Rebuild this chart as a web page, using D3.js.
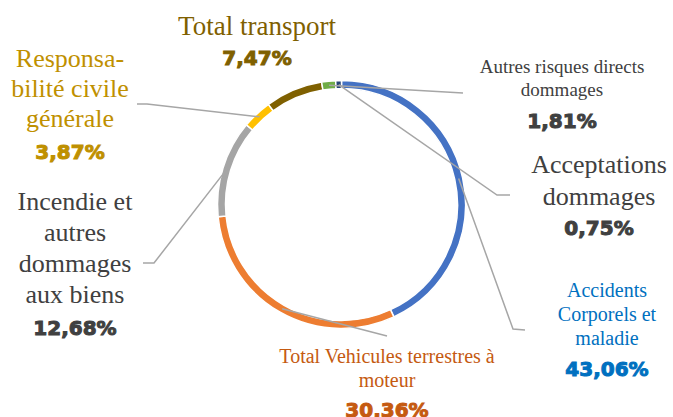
<!DOCTYPE html>
<html>
<head>
<meta charset="utf-8">
<script src="https://cdn.jsdelivr.net/npm/d3@7.9.0/dist/d3.min.js"></script>
<style>
  body { margin: 0; background: #fff; }
  svg { display: block; }
</style>
</head>
<body>
<div id="chart"></div>
<script>
// slices, clockwise from 12 o'clock
const categories = [
  'Accidents Corporels et maladie',
  'Total Vehicules terrestres à moteur',
  'Incendie et autres dommages aux biens',
  'Responsabilité civile générale',
  'Total transport',
  'Autres risques directs dommages',
  'Acceptations dommages',
];
const values = [43.06, 30.36, 12.68, 3.87, 7.47, 1.81, 0.75];
// how each label is broken onto lines
const labelLines = [
  ['Accidents', 'Corporels et', 'maladie'],
  ['Total Vehicules terrestres à', 'moteur'],
  ['Incendie et', 'autres', 'dommages', 'aux biens'],
  ['Responsa-', 'bilité civile', 'générale'],
  ['Total transport'],
  ['Autres risques directs', 'dommages'],
  ['Acceptations', 'dommages'],
];

const sliceColors = ['#4472C4', '#ED7D31', '#A5A5A5', '#FFC000', '#7F6000', '#70AD47', '#264478'];
const textColors = ['#0070C0', '#C55A11', '#404040', '#BF9000', '#7F6000', '#404040', '#404040'];

// label placement: center x, first baseline, font size, line height, gap to %
// leader: points after the slice anchor (null = no line)
const layout = [
  { x: 607, y: 297, size: 20, lh: 24, gap: 31, leader: [[513, 329], [525, 330]] },
  { x: 387, y: 363, size: 20, lh: 24, gap: 30, leader: [[387, 336]] },
  { x: 75, y: 210, size: 26, lh: 31, gap: 32, leader: [[154, 263], [143, 263]] },
  { x: 70, y: 67, size: 26, lh: 30, gap: 32, leader: [[147, 104], [137, 104]] },
  { x: 257, y: 35, size: 27, lh: 30, gap: 30, leader: null },
  { x: 562, y: 73, size: 19, lh: 23, gap: 32, leader: [[463, 93]] },
  { x: 599, y: 173, size: 26, lh: 32, gap: 30, leader: [[497, 195], [510, 195]] },
];

const serif = "'Liberation Serif', 'Times New Roman', serif";
const heavy = "'DejaVu Sans', 'Liberation Sans', sans-serif";

const width = 673;
const height = 417;
const cx = 341.5, cy = 204.5;
const outerR = 124, innerR = 116;

const svg = d3.select('#chart')
  .append('svg')
  .attr('width', width)
  .attr('height', height);

const slices = categories.map((name, i) => ({ name, value: values[i], i }));

const pie = d3.pie().sort(null).value((d) => d.value).startAngle(0).endAngle(2 * Math.PI);
const arc = d3.arc().innerRadius(innerR).outerRadius(outerR);
const anchorArc = d3.arc().innerRadius(120).outerRadius(120);

const arcs = pie(slices);

const ring = svg.append('g').attr('transform', `translate(${cx},${cy})`);
ring.selectAll('path')
  .data(arcs)
  .join('path')
  .attr('d', arc)
  .attr('fill', (d) => sliceColors[d.data.i])
  .attr('stroke', '#fff')
  .attr('stroke-width', 1.5);

// leader lines
const line = d3.line();
svg.append('g')
  .selectAll('path')
  .data(arcs.filter((d) => layout[d.data.i].leader))
  .join('path')
  .attr('d', (d) => {
    const [ax, ay] = anchorArc.centroid(d);
    return line([[cx + ax, cy + ay], ...layout[d.data.i].leader]);
  })
  .attr('fill', 'none')
  .attr('stroke', '#A6A6A6')
  .attr('stroke-width', 1.5);

// labels
const fmt = (v) => d3.format('.2f')(v).replace('.', ',') + '%';

const labels = svg.append('g')
  .selectAll('g')
  .data(slices)
  .join('g');

labels.each(function (d) {
  const L = layout[d.i];
  const g = d3.select(this);
  const lines = labelLines[d.i];
  lines.forEach((t, k) => {
    g.append('text')
      .attr('x', L.x)
      .attr('y', L.y + k * L.lh)
      .attr('text-anchor', 'middle')
      .style('font-family', serif)
      .style('font-size', L.size + 'px')
      .attr('fill', textColors[d.i])
      .text(t);
  });
  g.append('text')
    .attr('x', L.x)
    .attr('y', L.y + (lines.length - 1) * L.lh + L.gap)
    .attr('text-anchor', 'middle')
    .style('font-family', heavy)
    .style('font-size', '20px')
    .style('font-weight', 'bold')
    .attr('fill', textColors[d.i])
    .attr('stroke', textColors[d.i])
    .attr('stroke-width', 1)
    .text(fmt(d.value));
});
</script>
</body>
</html>
